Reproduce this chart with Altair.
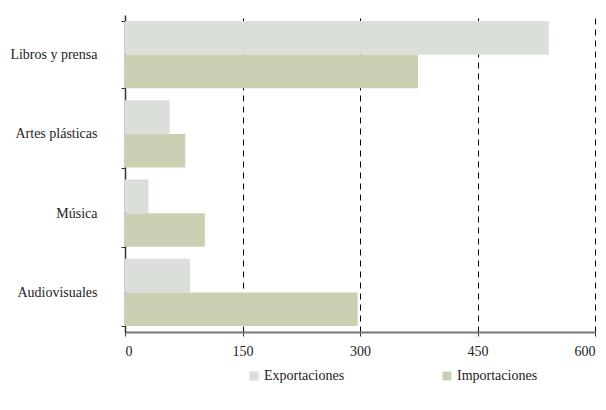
import altair as alt
import pandas as pd

categories = ["Libros y prensa", "Artes plásticas", "Música", "Audiovisuales"]
exportaciones = [541, 57, 30, 83]
importaciones = [374, 77, 102, 297]
series = ["Exportaciones", "Importaciones"]
colors = ["#dadfd9", "#cdcfb3"]
x_ticks = [0, 150, 300, 450, 600]

rows = []
for c, e, i in zip(categories, exportaciones, importaciones):
    rows.append({"cat": c, "serie": series[0], "valor": e})
    rows.append({"cat": c, "serie": series[1], "valor": i})
df = pd.DataFrame(rows)

FONT = "Liberation Serif"

chart = alt.Chart(df).mark_bar().encode(
    y=alt.Y("cat:N", sort=categories, title=None,
            scale=alt.Scale(paddingInner=0.15, paddingOuter=0.075),
            axis=alt.Axis(tickBand="extent", domainColor="#333333", domainWidth=1.5,
                          tickColor="#333333", tickSize=4, labelPadding=24,
                          labelFont=FONT, labelFontSize=14, labelColor="#222222",
                          grid=False)),
    yOffset=alt.YOffset("serie:N", sort=series, scale=alt.Scale(paddingInner=0, paddingOuter=0)),
    x=alt.X("valor:Q", title=None,
            scale=alt.Scale(domain=[0, 600], nice=False),
            axis=alt.Axis(values=x_ticks, grid=True, gridDash=[6, 5], gridColor="#000000",
                          gridWidth=1, domainColor="#777777", domainWidth=2,
                          tickColor="#333333", tickSize=4, labelPadding=8,
                          labelFont=FONT, labelFontSize=14, labelColor="#222222")),
    color=alt.Color("serie:N", sort=series,
                    scale=alt.Scale(domain=series, range=colors),
                    legend=alt.Legend(title=None, orient="none", direction="horizontal",
                                      legendX=122, legendY=354, symbolType="square",
                                      symbolSize=81, symbolStrokeWidth=0,
                                      labelFont=FONT, labelFontSize=14, labelColor="#222222",
                                      labelOffset=3, columnPadding=95)),
).properties(
    width=470, height=317,
    autosize=alt.AutoSizeParams(type="none"),
    padding={"left": 117, "top": 7, "right": 3, "bottom": 70},
).configure(font=FONT).configure_view(stroke=None)

chart.save("out.html", embed_options={"renderer": "svg", "actions": False})
